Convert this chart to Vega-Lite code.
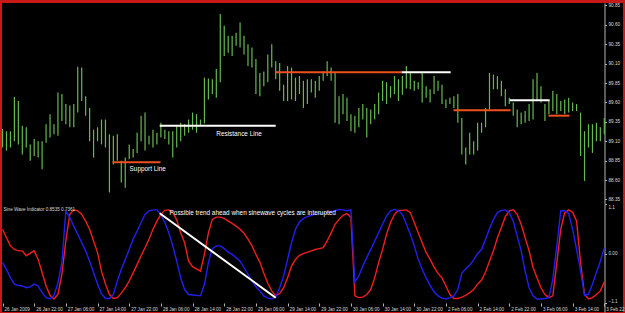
{
  "$schema": "https://vega.github.io/schema/vega-lite/v6.json",
  "background": "#c81818",
  "padding": {"left": 2, "top": 2, "right": 2, "bottom": 2},
  "spacing": 0,
  "bounds": "flush",
  "config": {
    "view": {"fill": "#000000", "stroke": null},
    "axis": {"grid": false, "labelFont": "Liberation Sans", "labelColor": "#dcdcdc", "domainColor": "#b4b4b4", "tickColor": "#b4b4b4", "labelOverlap": false, "labelFlush": false, "labelBound": false, "tickCount": 60}
  },
  "datasets": {
    "bars": [
      {"i":0,"high":89.26,"low":89.02},{"i":1,"high":89.23,"low":88.98},{"i":2,"high":89.23,"low":89.02},{"i":3,"high":89.67,"low":89.10},{"i":4,"high":89.62,"low":89.06},
      {"i":5,"high":89.30,"low":88.93},{"i":6,"high":89.28,"low":89.02},{"i":7,"high":89.06,"low":88.85},{"i":8,"high":89.13,"low":88.91},{"i":9,"high":89.10,"low":88.89},
      {"i":10,"high":89.10,"low":88.74},{"i":11,"high":89.32,"low":89.08},{"i":12,"high":89.45,"low":89.15},{"i":13,"high":89.32,"low":89.19},{"i":14,"high":89.73,"low":89.17},
      {"i":15,"high":89.71,"low":89.36},{"i":16,"high":89.58,"low":89.32},{"i":17,"high":89.56,"low":89.28},{"i":18,"high":89.58,"low":89.28},{"i":19,"high":90.06,"low":89.47},
      {"i":20,"high":90.05,"low":89.62},{"i":21,"high":89.68,"low":89.43},{"i":22,"high":89.53,"low":89.10},{"i":23,"high":89.25,"low":88.89},{"i":24,"high":89.28,"low":89.10},
      {"i":25,"high":89.38,"low":89.06},{"i":26,"high":89.38,"low":89.02},{"i":27,"high":89.19,"low":88.44},{"i":28,"high":89.17,"low":88.80},{"i":29,"high":89.19,"low":88.85},
      {"i":30,"high":88.85,"low":88.57},{"i":31,"high":88.89,"low":88.50},{"i":32,"high":89.06,"low":88.87},{"i":33,"high":89.00,"low":88.89},{"i":34,"high":89.21,"low":88.95},
      {"i":35,"high":89.43,"low":89.10},{"i":36,"high":89.47,"low":88.98},{"i":37,"high":89.17,"low":89.06},{"i":38,"high":89.25,"low":89.02},{"i":39,"high":89.21,"low":89.06},
      {"i":40,"high":89.34,"low":89.15},{"i":41,"high":89.25,"low":89.13},{"i":42,"high":89.23,"low":89.06},{"i":43,"high":89.23,"low":88.89},{"i":44,"high":89.30,"low":89.02},
      {"i":45,"high":89.34,"low":89.10},{"i":46,"high":89.32,"low":89.17},{"i":47,"high":89.38,"low":89.21},{"i":48,"high":89.47,"low":89.25},{"i":49,"high":89.45,"low":89.21},
      {"i":50,"high":89.38,"low":89.30},{"i":51,"high":89.92,"low":89.33},{"i":52,"high":89.91,"low":89.64},{"i":53,"high":89.90,"low":89.71},{"i":54,"high":90.03,"low":89.66},
      {"i":55,"high":90.74,"low":89.86},{"i":56,"high":90.59,"low":90.20},{"i":57,"high":90.46,"low":90.24},{"i":58,"high":90.46,"low":90.20},{"i":59,"high":90.50,"low":90.33},
      {"i":60,"high":90.63,"low":90.31},{"i":61,"high":90.46,"low":90.22},{"i":62,"high":90.35,"low":90.07},{"i":63,"high":90.31,"low":90.05},{"i":64,"high":90.16,"low":89.71},
      {"i":65,"high":89.98,"low":89.68},{"i":66,"high":90.00,"low":89.81},{"i":67,"high":90.22,"low":89.86},{"i":68,"high":90.35,"low":90.05},{"i":69,"high":90.13,"low":89.90},
      {"i":70,"high":90.11,"low":89.75},{"i":71,"high":89.83,"low":89.62},{"i":72,"high":90.07,"low":89.62},{"i":73,"high":90.05,"low":89.64},{"i":74,"high":89.92,"low":89.62},
      {"i":75,"high":89.94,"low":89.71},{"i":76,"high":89.88,"low":89.53},{"i":77,"high":89.90,"low":89.58},{"i":78,"high":89.90,"low":89.73},{"i":79,"high":89.88,"low":89.66},
      {"i":80,"high":89.94,"low":89.75},{"i":81,"high":90.00,"low":89.88},{"i":82,"high":90.13,"low":89.94},{"i":83,"high":90.05,"low":89.88},{"i":84,"high":89.98,"low":89.34},
      {"i":85,"high":89.68,"low":89.32},{"i":86,"high":89.71,"low":89.45},{"i":87,"high":89.66,"low":89.36},{"i":88,"high":89.45,"low":89.23},{"i":89,"high":89.43,"low":89.21},
      {"i":90,"high":89.53,"low":89.28},{"i":91,"high":89.58,"low":89.38},{"i":92,"high":89.53,"low":89.15},{"i":93,"high":89.51,"low":89.32},{"i":94,"high":89.58,"low":89.38},
      {"i":95,"high":89.73,"low":89.45},{"i":96,"high":89.88,"low":89.62},{"i":97,"high":89.86,"low":89.58},{"i":98,"high":89.81,"low":89.66},{"i":99,"high":89.94,"low":89.71},
      {"i":100,"high":89.90,"low":89.62},{"i":101,"high":89.94,"low":89.70},{"i":102,"high":90.07,"low":89.78},{"i":103,"high":89.98,"low":89.77},{"i":104,"high":89.88,"low":89.75},
      {"i":105,"high":89.86,"low":89.77},{"i":106,"high":89.98,"low":89.60},{"i":107,"high":89.81,"low":89.66},{"i":108,"high":89.77,"low":89.60},{"i":109,"high":89.94,"low":89.71},
      {"i":110,"high":89.88,"low":89.75},{"i":111,"high":89.83,"low":89.58},{"i":112,"high":89.64,"low":89.53},{"i":113,"high":89.66,"low":89.58},{"i":114,"high":89.68,"low":89.53},
      {"i":115,"high":89.71,"low":89.34},{"i":116,"high":89.40,"low":88.93},{"i":117,"high":89.02,"low":88.80},{"i":118,"high":89.21,"low":88.93},{"i":119,"high":89.10,"low":88.93},
      {"i":120,"high":89.34,"low":88.98},{"i":121,"high":89.34,"low":89.21},{"i":122,"high":89.53,"low":89.28},{"i":123,"high":89.98,"low":89.51},{"i":124,"high":89.96,"low":89.77},
      {"i":125,"high":89.94,"low":89.77},{"i":126,"high":89.88,"low":89.68},{"i":127,"high":89.77,"low":89.55},{"i":128,"high":89.66,"low":89.58},{"i":129,"high":89.60,"low":89.43},
      {"i":130,"high":89.51,"low":89.28},{"i":131,"high":89.47,"low":89.32},{"i":132,"high":89.49,"low":89.34},{"i":133,"high":89.58,"low":89.36},{"i":134,"high":89.90,"low":89.38},
      {"i":135,"high":89.98,"low":89.62},{"i":136,"high":89.81,"low":89.60},{"i":137,"high":89.58,"low":89.36},{"i":138,"high":89.62,"low":89.45},{"i":139,"high":89.75,"low":89.49},
      {"i":140,"high":89.71,"low":89.45},{"i":141,"high":89.62,"low":89.49},{"i":142,"high":89.64,"low":89.45},{"i":143,"high":89.66,"low":89.47},{"i":144,"high":89.60,"low":89.49},
      {"i":145,"high":89.58,"low":89.49},{"i":146,"high":89.47,"low":88.91},{"i":147,"high":89.23,"low":88.59},{"i":148,"high":89.32,"low":89.02},{"i":149,"high":89.32,"low":88.95},
      {"i":150,"high":89.34,"low":89.10},{"i":151,"high":89.28,"low":89.10},{"i":152,"high":89.40,"low":89.19}
    ],
    "levels": [
      {"kind":"support","from":27.8,"to":39.9,"price":88.83},
      {"kind":"resistance","from":39.7,"to":69.0,"price":89.30},
      {"kind":"support","from":69.0,"to":100.8,"price":89.99},
      {"kind":"resistance","from":100.8,"to":113.2,"price":89.99},
      {"kind":"support","from":113.9,"to":128.3,"price":89.50},
      {"kind":"resistance","from":128.1,"to":138.2,"price":89.63},
      {"kind":"support","from":137.9,"to":143.2,"price":89.43}
    ],
    "notesTop": [
      {"i":32.1,"price":88.74,"label":"Support Line"},
      {"i":54.0,"price":89.19,"label":"Resistance Line"}
    ],
    "lines": [
      {"i":0,"sine":0.55,"lead":-0.19},{"i":1,"sine":0.36,"lead":-0.34},{"i":2,"sine":0.18,"lead":-0.53},{"i":3,"sine":0.10,"lead":-0.67},{"i":4,"sine":0.07,"lead":-0.70},
      {"i":5,"sine":0.07,"lead":-0.71},{"i":6,"sine":-0.04,"lead":-0.75},{"i":7,"sine":0.02,"lead":-0.73},{"i":8,"sine":0.07,"lead":-0.67},{"i":9,"sine":-0.12,"lead":-0.71},
      {"i":10,"sine":-0.41,"lead":-0.86},{"i":11,"sine":-0.71,"lead":-0.97},{"i":12,"sine":-0.92,"lead":-1.00},{"i":13,"sine":-1.00,"lead":-0.92},{"i":14,"sine":-0.90,"lead":-0.64},
      {"i":15,"sine":-0.45,"lead":-0.19},{"i":16,"sine":0.30,"lead":0.96},{"i":17,"sine":0.88,"lead":0.81},{"i":18,"sine":0.98,"lead":0.62},{"i":19,"sine":0.96,"lead":0.44},
      {"i":20,"sine":0.88,"lead":0.25},{"i":21,"sine":0.73,"lead":0.07},{"i":22,"sine":0.55,"lead":-0.16},{"i":23,"sine":0.29,"lead":-0.41},{"i":24,"sine":0.03,"lead":-0.67},
      {"i":25,"sine":-0.38,"lead":-0.88},{"i":26,"sine":-0.67,"lead":-0.99},{"i":27,"sine":-0.90,"lead":-0.99},{"i":28,"sine":-0.99,"lead":-0.90},{"i":29,"sine":-0.97,"lead":-0.60},
      {"i":30,"sine":-0.87,"lead":-0.34},{"i":31,"sine":-0.75,"lead":-0.12},{"i":32,"sine":-0.60,"lead":0.10},{"i":33,"sine":-0.42,"lead":0.33},{"i":34,"sine":-0.23,"lead":0.51},
      {"i":35,"sine":-0.04,"lead":0.70},{"i":36,"sine":0.14,"lead":0.88},{"i":37,"sine":0.33,"lead":0.96},{"i":38,"sine":0.55,"lead":0.98},{"i":39,"sine":0.73,"lead":0.98},
      {"i":40,"sine":0.88,"lead":0.88},{"i":41,"sine":0.97,"lead":0.70},{"i":42,"sine":0.98,"lead":0.47},{"i":43,"sine":0.92,"lead":0.18},{"i":44,"sine":0.76,"lead":-0.16},
      {"i":45,"sine":0.47,"lead":-0.53},{"i":46,"sine":0.25,"lead":-0.79},{"i":47,"sine":-0.16,"lead":-0.90},{"i":48,"sine":-0.28,"lead":-0.91},{"i":49,"sine":-0.33,"lead":-0.92},
      {"i":50,"sine":-0.38,"lead":-0.93},{"i":51,"sine":0.00,"lead":-0.68},{"i":52,"sine":0.47,"lead":-0.19},{"i":53,"sine":0.77,"lead":0.12},{"i":54,"sine":0.82,"lead":0.18},
      {"i":55,"sine":0.82,"lead":0.18},{"i":56,"sine":0.79,"lead":0.12},{"i":57,"sine":0.73,"lead":0.04},{"i":58,"sine":0.68,"lead":-0.01},{"i":59,"sine":0.62,"lead":-0.08},
      {"i":60,"sine":0.55,"lead":-0.16},{"i":61,"sine":0.46,"lead":-0.30},{"i":62,"sine":0.33,"lead":-0.45},{"i":63,"sine":0.18,"lead":-0.60},{"i":64,"sine":-0.01,"lead":-0.73},
      {"i":65,"sine":-0.18,"lead":-0.82},{"i":66,"sine":-0.43,"lead":-0.93},{"i":67,"sine":-0.65,"lead":-0.98},{"i":68,"sine":-0.82,"lead":-1.00},{"i":69,"sine":-0.93,"lead":-0.95},
      {"i":70,"sine":-0.88,"lead":-0.75},{"i":71,"sine":-0.75,"lead":-0.49},{"i":72,"sine":-0.53,"lead":-0.12},{"i":73,"sine":-0.27,"lead":0.25},{"i":74,"sine":-0.12,"lead":0.55},
      {"i":75,"sine":-0.03,"lead":0.71},{"i":76,"sine":0.01,"lead":0.79},{"i":77,"sine":0.04,"lead":0.83},{"i":78,"sine":0.07,"lead":0.86},{"i":79,"sine":0.10,"lead":0.88},
      {"i":80,"sine":0.12,"lead":0.90},{"i":81,"sine":0.14,"lead":0.90},{"i":82,"sine":0.29,"lead":0.92},{"i":83,"sine":0.47,"lead":0.94},{"i":84,"sine":0.66,"lead":0.96},
      {"i":85,"sine":0.77,"lead":0.99},{"i":86,"sine":0.86,"lead":0.98},{"i":87,"sine":0.90,"lead":0.96},{"i":88,"sine":0.81,"lead":0.98},{"i":89,"sine":-0.93,"lead":-0.62},
      {"i":90,"sine":-0.97,"lead":-0.49},{"i":91,"sine":-0.96,"lead":-0.27},{"i":92,"sine":-0.90,"lead":-0.08},{"i":93,"sine":-0.79,"lead":0.10},{"i":94,"sine":-0.53,"lead":0.29},
      {"i":95,"sine":-0.19,"lead":0.47},{"i":96,"sine":0.10,"lead":0.66},{"i":97,"sine":0.44,"lead":0.84},{"i":98,"sine":0.70,"lead":0.96},{"i":99,"sine":0.88,"lead":0.99},
      {"i":100,"sine":0.97,"lead":0.96},{"i":101,"sine":0.97,"lead":0.88},{"i":102,"sine":0.98,"lead":0.66},{"i":103,"sine":0.92,"lead":0.44},{"i":104,"sine":0.70,"lead":0.18},
      {"i":105,"sine":0.47,"lead":-0.12},{"i":106,"sine":0.25,"lead":-0.34},{"i":107,"sine":0.03,"lead":-0.53},{"i":108,"sine":-0.12,"lead":-0.70},{"i":109,"sine":-0.29,"lead":-0.84},
      {"i":110,"sine":-0.43,"lead":-0.93},{"i":111,"sine":-0.53,"lead":-0.98},{"i":112,"sine":-0.71,"lead":-1.00},{"i":113,"sine":-0.90,"lead":-0.97},{"i":114,"sine":-0.99,"lead":-0.93},
      {"i":115,"sine":-0.99,"lead":-0.79},{"i":116,"sine":-0.96,"lead":-0.43},{"i":117,"sine":-0.92,"lead":-0.33},{"i":118,"sine":-0.86,"lead":-0.25},{"i":119,"sine":-0.79,"lead":-0.13},
      {"i":120,"sine":-0.67,"lead":0.01},{"i":121,"sine":-0.58,"lead":0.10},{"i":122,"sine":-0.40,"lead":0.33},{"i":123,"sine":-0.16,"lead":0.56},{"i":124,"sine":0.07,"lead":0.77},
      {"i":125,"sine":0.36,"lead":0.92},{"i":126,"sine":0.59,"lead":0.97},{"i":127,"sine":0.83,"lead":0.98},{"i":128,"sine":0.96,"lead":0.92},{"i":129,"sine":0.98,"lead":0.73},
      {"i":130,"sine":0.88,"lead":0.40},{"i":131,"sine":0.66,"lead":0.07},{"i":132,"sine":0.36,"lead":-0.38},{"i":133,"sine":0.07,"lead":-0.75},{"i":134,"sine":-0.30,"lead":-0.93},
      {"i":135,"sine":-0.53,"lead":-1.00},{"i":136,"sine":-0.75,"lead":-1.00},{"i":137,"sine":-0.90,"lead":-0.99},{"i":138,"sine":-0.97,"lead":-0.97},{"i":139,"sine":-0.93,"lead":-0.56},
      {"i":140,"sine":-0.19,"lead":0.18},{"i":141,"sine":0.55,"lead":0.96},{"i":142,"sine":0.92,"lead":0.96},{"i":143,"sine":0.98,"lead":0.90},{"i":144,"sine":0.93,"lead":0.55},
      {"i":145,"sine":0.73,"lead":0.10},{"i":146,"sine":-0.19,"lead":-0.38},{"i":147,"sine":-0.90,"lead":-0.92},{"i":148,"sine":-1.00,"lead":-0.90},{"i":149,"sine":-0.97,"lead":-0.67},
      {"i":150,"sine":-0.90,"lead":-0.41},{"i":151,"sine":-0.82,"lead":-0.16},{"i":152,"sine":-0.62,"lead":0.14}
    ],
    "diag": [{"x1":39.7,"y1":0.904,"x2":69.0,"y2":-0.971}],
    "notesBottom": [
      {"i":42.2,"v":0.922,"label":"Possible trend ahead when sinewave cycles are interupted"}
    ],
    "caption": [
      {"i":0.25,"v":0.978,"label":"Sine Wave Indicator 0.8535 0.7361"}
    ]
  },
  "vconcat": [
    {
      "width": 621,
      "height": 201,
      "layer": [
        {
          "data": {"name": "bars"},
          "mark": {"type": "rule", "color": "#66b850", "strokeWidth": 1.2, "clip": true},
          "encoding": {
            "x": {"field": "i", "type": "quantitative", "scale": {"domain": [-0.13, 156.72], "nice": false, "zero": false}, "axis": null},
            "y": {"field": "high", "type": "quantitative", "title": null,
                  "scale": {"domain": [88.292, 90.882], "nice": false, "zero": false},
                  "axis": {"orient": "right", "offset": -18.5, "values": [88.35, 88.6, 88.85, 89.1, 89.35, 89.6, 89.85, 90.1, 90.35, 90.6, 90.85], "tickCount": 60,
                           "format": ".2f", "tickSize": 2, "labelPadding": 1.5, "labelFontSize": 4.6, "labelBound": false, "labelOverlap": false, "labelFlush": false, "title": null}},
            "y2": {"field": "low"}
          }
        },
        {
          "mark": {"type": "rule", "color": "#b4b4b4", "strokeWidth": 2, "clip": true},
          "encoding": {"x": {"datum": -1, "axis": null}, "x2": {"datum": 152.44}, "y": {"datum": 88.30, "title": null}}
        },
        {
          "data": {"name": "levels"},
          "mark": {"type": "rule", "strokeWidth": 2},
          "encoding": {
            "x": {"field": "from", "type": "quantitative", "axis": null},
            "x2": {"field": "to"},
            "y": {"field": "price", "type": "quantitative", "title": null},
            "color": {"field": "kind", "type": "nominal", "scale": {"domain": ["support", "resistance"], "range": ["#f0501e", "#ffffff"]}, "legend": null}
          }
        },
        {
          "data": {"name": "notesTop"},
          "mark": {"type": "text", "align": "left", "baseline": "middle", "color": "#ffffff", "font": "Liberation Sans", "fontSize": 6.4},
          "encoding": {
            "x": {"field": "i", "type": "quantitative", "axis": null},
            "y": {"field": "price", "type": "quantitative", "title": null},
            "text": {"field": "label"}
          }
        }
      ]
    },
    {
      "width": 621,
      "height": 108,
      "layer": [
        {
          "data": {"name": "lines"},
          "mark": {"type": "line", "color": "#f01e1e", "strokeWidth": 1.4, "clip": true},
          "encoding": {
            "x": {"field": "i", "type": "quantitative", "title": null, "scale": {"domain": [-0.13, 156.72], "nice": false, "zero": false},
                  "axis": {"values": [0,8,16,24,32,40,48,56,64,72,80,88,96,104,112,120,128,136,144,152], "tickCount": 60,
                           "labelExpr": "['26 Jan 2009','26 Jan 22:00','27 Jan 06:00','27 Jan 14:00','27 Jan 22:00','28 Jan 06:00','28 Jan 14:00','28 Jan 22:00','29 Jan 06:00','29 Jan 14:00','29 Jan 22:00','30 Jan 06:00','30 Jan 14:00','30 Jan 22:00','2 Feb 06:00','2 Feb 14:00','2 Feb 22:00','3 Feb 06:00','3 Feb 14:00','3 Feb 22:00'][round(datum.value/8)]",
                           "offset": -9, "domain": false, "tickSize": 3, "labelAlign": "left", "labelBaseline": "top", "labelPadding": 0, "labelOffset": 1.5,
                           "labelFontSize": 4.6, "labelOverlap": false, "labelFlush": false, "labelBound": false, "title": null}},
            "y": {"field": "sine", "type": "quantitative", "title": null,
                  "scale": {"domain": [-1.289, 1.111], "nice": false, "zero": false},
                  "axis": {"orient": "right", "offset": -18.5, "values": [-1.1, 0, 1.1], "tickCount": 60,
                           "labelExpr": "datum.value == 0 ? '0.00' : format(datum.value, '.1f')",
                           "labelBaseline": {"condition": [{"test": "datum.value > 1", "value": "top"}, {"test": "datum.value < -1", "value": "bottom"}], "value": "middle"},
                           "tickSize": 2, "labelPadding": 1.5, "labelFontSize": 4.6, "labelBound": false, "labelOverlap": false, "labelFlush": false, "title": null}}
          }
        },
        {
          "data": {"name": "lines"},
          "mark": {"type": "line", "color": "#2020f0", "strokeWidth": 1.4, "clip": true},
          "encoding": {
            "x": {"field": "i", "type": "quantitative", "title": null},
            "y": {"field": "lead", "type": "quantitative", "title": null}
          }
        },
        {
          "mark": {"type": "rule", "color": "#b4b4b4", "strokeWidth": 1, "clip": true},
          "encoding": {"x": {"datum": -1}, "x2": {"datum": 152.44}, "y": {"datum": -1.089}}
        },
        {
          "data": {"name": "diag"},
          "mark": {"type": "rule", "color": "#ffffff", "strokeWidth": 2},
          "encoding": {
            "x": {"field": "x1", "type": "quantitative", "title": null},
            "y": {"field": "y1", "type": "quantitative", "title": null},
            "x2": {"field": "x2"},
            "y2": {"field": "y2"}
          }
        },
        {
          "data": {"name": "notesBottom"},
          "mark": {"type": "text", "align": "left", "baseline": "middle", "color": "#ffffff", "font": "Liberation Sans", "fontSize": 6.4},
          "encoding": {
            "x": {"field": "i", "type": "quantitative", "title": null},
            "y": {"field": "v", "type": "quantitative", "title": null},
            "text": {"field": "label"}
          }
        },
        {
          "data": {"name": "caption"},
          "mark": {"type": "text", "align": "left", "baseline": "middle", "color": "#dcdcdc", "font": "Liberation Sans", "fontSize": 4.6},
          "encoding": {
            "x": {"field": "i", "type": "quantitative", "title": null},
            "y": {"field": "v", "type": "quantitative", "title": null},
            "text": {"field": "label"}
          }
        }
      ]
    }
  ]
}
